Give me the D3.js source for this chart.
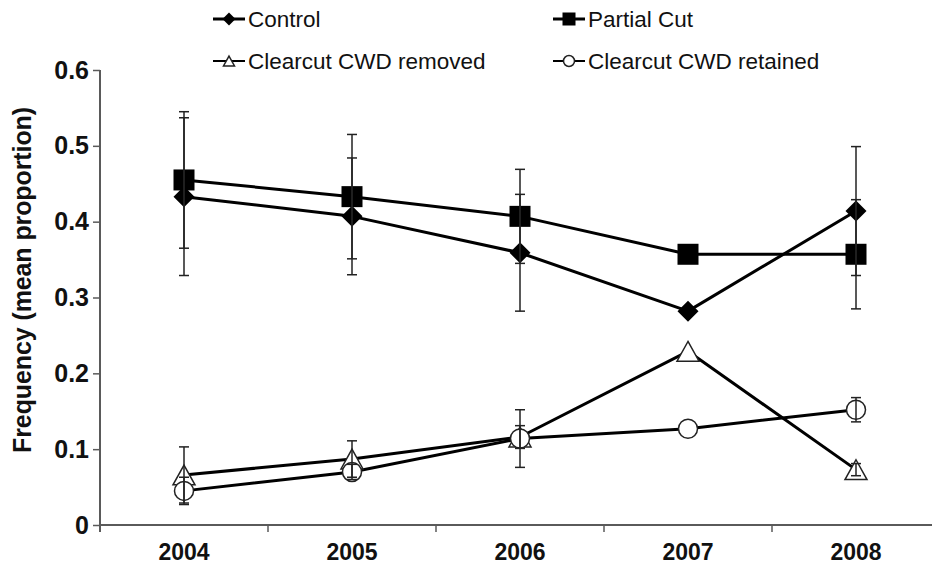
<!DOCTYPE html>
<html>
<head>
<meta charset="utf-8">
<script src="https://cdn.jsdelivr.net/npm/d3@7"></script>
<style>
  html, body { margin: 0; padding: 0; background: #fff; }
  svg { display: block; font-family: "Liberation Sans", Arial, sans-serif; }
</style>
</head>
<body>
<svg id="chart" width="932" height="565"></svg>
<script>
const years = ["2004", "2005", "2006", "2007", "2008"];
const yTicks = [0, 0.1, 0.2, 0.3, 0.4, 0.5, 0.6];
const yTickLabels = ["0", "0.1", "0.2", "0.3", "0.4", "0.5", "0.6"];

const seriesNames = ["Control", "Partial Cut", "Clearcut CWD removed", "Clearcut CWD retained"];
const controlMean = [0.433, 0.407, 0.359, 0.282, 0.414];
const controlErr = [0.104, 0.077, 0.077, 0, 0.085];
const partialMean = [0.455, 0.433, 0.407, 0.357, 0.357];
const partialErr = [0.090, 0.082, 0.062, 0, 0.072];
const removedMean = [0.066, 0.087, 0.116, 0.229, 0.073];
const removedErr = [0.037, 0.024, 0.015, 0, 0.008];
const retainedMean = [0.045, 0.070, 0.114, 0.127, 0.152];
const retainedErr = [0.018, 0.010, 0.038, 0, 0.016];
const yTitle = "Frequency (mean proportion)";

const series = [
  { name: seriesNames[0], mean: controlMean, err: controlErr, shape: "diamond" },
  { name: seriesNames[1], mean: partialMean, err: partialErr, shape: "square" },
  { name: seriesNames[2], mean: removedMean, err: removedErr, shape: "triangle" },
  { name: seriesNames[3], mean: retainedMean, err: retainedErr, shape: "circle" }
];

const svg = d3.select("#chart");
const x = d3.scaleBand().domain(years).range([100, 940]).padding(0);
const y = d3.scaleLinear().domain([0, 0.6]).range([525, 70]);
const axisColor = "#5a5a5a";

// Y axis
const yAxis = d3.axisLeft(y).tickValues(yTicks).tickSize(7).tickPadding(4)
  .tickFormat((d, i) => yTickLabels[i]);
const gy = svg.append("g").attr("transform", "translate(100,0)").call(yAxis);
gy.select(".domain").attr("stroke", axisColor).attr("stroke-width", 2)
  .attr("d", "M0,70V532");
gy.selectAll(".tick line").attr("stroke", axisColor).attr("stroke-width", 1.5);
gy.selectAll(".tick text").attr("font-size", 25).attr("font-weight", "bold")
  .attr("fill", "#111").attr("font-family", "Liberation Sans, Arial, sans-serif");

// X axis
const xAxis = d3.axisBottom(x).tickSize(0).tickPadding(14);
const gx = svg.append("g").attr("transform", "translate(0,525)").call(xAxis);
gx.select(".domain").attr("stroke", axisColor).attr("stroke-width", 2).attr("d", "M100,0H932");
gx.selectAll(".tick text").attr("font-size", 23).attr("font-weight", "bold")
  .attr("fill", "#111").attr("font-family", "Liberation Sans, Arial, sans-serif")
  .attr("dy", "0.9em");
// category boundary ticks
gx.selectAll(".btick").data(years.slice(1)).enter().append("line")
  .attr("class", "btick")
  .attr("x1", d => x(d)).attr("x2", d => x(d))
  .attr("y1", 0).attr("y2", 7)
  .attr("stroke", axisColor).attr("stroke-width", 1.5);

// Y title
svg.append("text")
  .attr("transform", "translate(31,280) rotate(-90)")
  .attr("text-anchor", "middle")
  .attr("font-size", 25).attr("font-weight", "bold").attr("fill", "#111")
  .attr("letter-spacing", "-0.1")
  .text(yTitle);

const cx = d => x(d) + x.bandwidth() / 2;

function drawMarker(g, shape, px, py, s) {
  if (shape === "diamond") {
    g.append("path")
      .attr("d", `M${px},${py - s / 2}L${px + s / 2},${py}L${px},${py + s / 2}L${px - s / 2},${py}Z`)
      .attr("fill", "#000");
  } else if (shape === "square") {
    g.append("rect").attr("x", px - s / 2).attr("y", py - s / 2)
      .attr("width", s).attr("height", s).attr("fill", "#000");
  } else if (shape === "triangle") {
    const h = s * 0.9;
    g.append("path")
      .attr("d", `M${px},${py - h / 2}L${px + s / 2},${py + h / 2}L${px - s / 2},${py + h / 2}Z`)
      .attr("fill", "#fff").attr("stroke", "#222").attr("stroke-width", 1.5);
  } else {
    g.append("circle").attr("cx", px).attr("cy", py).attr("r", s / 2)
      .attr("fill", "#fff").attr("stroke", "#222").attr("stroke-width", 1.5);
  }
}

const line = d3.line().x((d, i) => cx(years[i])).y(d => y(d));

// lines
series.forEach(s => {
  svg.append("path").datum(s.mean).attr("d", line)
    .attr("fill", "none").attr("stroke", "#000").attr("stroke-width", 3)
    .attr("stroke-linejoin", "round");
});

// markers
const markerSize = { diamond: 21, square: 21, triangle: 22, circle: 19 };
series.forEach(s => {
  const g = svg.append("g");
  s.mean.forEach((v, i) => drawMarker(g, s.shape, cx(years[i]), y(v), markerSize[s.shape]));
});

// error bars
series.forEach(s => {
  const g = svg.append("g").attr("stroke", "#222").attr("stroke-width", 1.5);
  s.mean.forEach((v, i) => {
    const e = s.err[i];
    if (!e) return;
    const px = cx(years[i]);
    const top = y(v + e), bot = y(v - e);
    g.append("line").attr("x1", px).attr("x2", px).attr("y1", top).attr("y2", bot);
    g.append("line").attr("x1", px - 5).attr("x2", px + 5).attr("y1", top).attr("y2", top);
    g.append("line").attr("x1", px - 5).attr("x2", px + 5).attr("y1", bot).attr("y2", bot);
  });
});

// legend
const legendItems = [
  { s: series[0], lx: 213, ly: 19 },
  { s: series[1], lx: 553, ly: 19 },
  { s: series[2], lx: 213, ly: 61 },
  { s: series[3], lx: 553, ly: 61 }
];
const legendMarker = { diamond: 13, square: 13, triangle: 11, circle: 11 };
legendItems.forEach(it => {
  const g = svg.append("g");
  g.append("line").attr("x1", it.lx).attr("x2", it.lx + 32)
    .attr("y1", it.ly).attr("y2", it.ly)
    .attr("stroke", "#000").attr("stroke-width", it.s.shape === "diamond" || it.s.shape === "square" ? 3 : 2);
  drawMarker(g, it.s.shape, it.lx + 16, it.ly, legendMarker[it.s.shape]);
  g.append("text").attr("x", it.lx + 35).attr("y", it.ly).attr("dy", "0.35em")
    .attr("font-size", 22.5).attr("fill", "#111")
    .text(it.s.name);
});
</script>
</body>
</html>
